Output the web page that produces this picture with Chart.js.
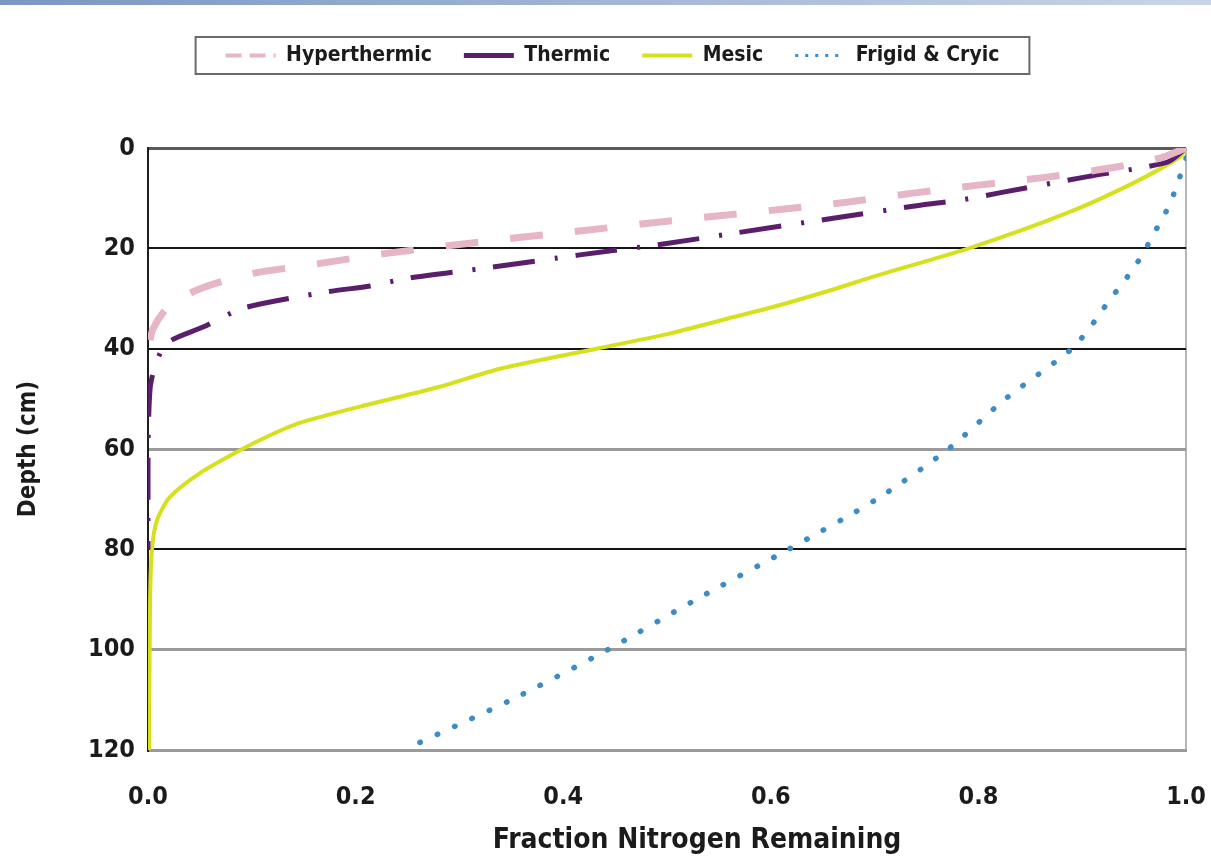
<!DOCTYPE html>
<html>
<head>
<meta charset="utf-8">
<script src="https://cdn.jsdelivr.net/npm/chart.js@4.4.1/dist/chart.umd.min.js"></script>
<style>
  html, body { margin: 0; padding: 0; background: #ffffff; }
  #wrap { position: relative; width: 1211px; height: 862px; }
  #topband { position: absolute; left: 0; top: 0; width: 1211px; height: 5px;
             background: linear-gradient(to right, #7b96c2, #a9bcd8 60%, #c9d5e6); }
</style>
</head>
<body>
<div id="wrap">
  <div id="topband"></div>
  <canvas id="c" width="1211" height="862"></canvas>
</div>
<script>
// ---- data ----
const seriesNames = ['Hyperthermic', 'Thermic', 'Mesic', 'Frigid & Cryic'];

const depthHyper = [0, 2, 4, 5.8, 7.4, 9, 10.8, 12.2, 13.6, 15, 16.5, 17.9, 19.4, 21.1, 23, 25, 27, 29, 32, 36, 40];
const fracHyper  = [1.0, 0.975, 0.927, 0.866, 0.80, 0.737, 0.673, 0.611, 0.546, 0.482, 0.418, 0.355, 0.293, 0.226, 0.166, 0.101, 0.065, 0.040, 0.018, 0.005, 0];

const depthThermic = [0, 2.8, 5.7, 8.8, 10.4, 11.4, 14, 17, 19.1, 21.3, 23.8, 25.9, 27.5, 28.7, 31.9, 35.7, 38.9, 43.3, 48, 60, 80];
const fracThermic  = [1.0, 0.982, 0.905, 0.824, 0.782, 0.744, 0.66, 0.564, 0.498, 0.416, 0.33, 0.252, 0.214, 0.172, 0.092, 0.053, 0.018, 0.007, 0.002, 0, 0];

const depthMesic = [0, 1.8, 7, 13, 19.7, 25.7, 28.2, 31.7, 33.7, 37.1, 40, 44, 47.6, 51.5, 54.8, 57.5, 60.2, 64.8, 69.6, 74, 79.5, 90, 120];
const fracMesic  = [1.0, 0.994, 0.949, 0.885, 0.795, 0.698, 0.66, 0.602, 0.564, 0.50, 0.432, 0.339, 0.281, 0.205, 0.146, 0.115, 0.089, 0.05, 0.021, 0.009, 0.004, 0.002, 0.001];

const depthFrigid = [2, 3.8, 7, 10.8, 14.2, 17.7, 21, 24, 27.3, 30, 33.7, 40, 50, 60, 70, 80, 90, 100, 110, 120];
const fracFrigid  = [1.0, 0.997, 0.992, 0.985, 0.977, 0.967, 0.959, 0.949, 0.938, 0.927, 0.915, 0.89, 0.826, 0.771, 0.702, 0.617, 0.528, 0.443, 0.35, 0.246];

const xTickValues = [0, 0.2, 0.4, 0.6, 0.8, 1.0];
const yTickValues = [0, 20, 40, 60, 80, 100, 120];

const xTitle = 'Fraction Nitrogen Remaining';
const yTitle = 'Depth (cm)';

// ---- helpers ----
const pts = (xs, ys) => xs.map((x, i) => ({ x: x, y: ys[i] }));
const FONT = "'DejaVu Sans Condensed', 'DejaVu Sans', sans-serif";
const TXT = '#1b1b1b';

const gridColorFor = {0: '#5a5a5a', 20: '#141414', 40: '#141414', 60: '#9a9a9a', 80: '#141414', 100: '#9a9a9a', 120: '#9a9a9a'};

const legendStyles = [
  { lineWidth: 4, lineDash: [16, 8], lineCap: 'butt' },
  { lineWidth: 5, lineDash: [], lineCap: 'butt' },
  { lineWidth: 4, lineDash: [], lineCap: 'butt' },
  { lineWidth: 3, lineDash: [3, 7], lineCap: 'butt' }
];

const legendSpacer = {
  id: 'legendSpacer',
  afterInit(chart) {
    const lg = chart.legend;
    if (!lg) return;
    const orig = lg.fit;
    lg.fit = function () { orig.call(this); this.height += 72; };
  },
  beforeDraw(chart) {
    // the reference's x-axis title sits ~30px right of the axis centre
    const s = chart.scales.x;
    if (s && !s._titleShifted) {
      const origTitle = s.drawTitle;
      s.drawTitle = function () {
        const l = this.left;
        this.left = l + 60;
        try { origTitle.call(this); } finally { this.left = l; }
      };
      s._titleShifted = true;
    }
  },
  afterDraw(chart) {
    const lg = chart.legend;
    if (!lg || !lg.legendHitBoxes || !lg.legendHitBoxes.length) return;
    const hb = lg.legendHitBoxes;
    let l = Infinity, r = -Infinity, t = Infinity, b = -Infinity;
    hb.forEach(h => { l = Math.min(l, h.left); r = Math.max(r, h.left + h.width); t = Math.min(t, h.top); b = Math.max(b, h.top + h.height); });
    const ctx = chart.ctx;
    ctx.save();
    ctx.strokeStyle = '#6a6a6a';
    ctx.lineWidth = 2;
    ctx.strokeRect(l - 30, t - 8, (r - l) + 60, (b - t) + 16);
    ctx.restore();
  }
};

new Chart(document.getElementById('c'), {
  type: 'scatter',
  data: {
    datasets: [
      { label: seriesNames[0], data: pts(fracHyper, depthHyper), showLine: true,
        borderColor: '#e6b5c7', backgroundColor: '#e6b5c7', borderWidth: 7,
        borderDash: [33, 32], borderCapStyle: 'butt', pointRadius: 0, tension: 0.25, fill: false },
      { label: seriesNames[1], data: pts(fracThermic, depthThermic), showLine: true,
        borderColor: '#5a1e6c', backgroundColor: '#5a1e6c', borderWidth: 5,
        borderDash: [42, 18, 3, 20], borderCapStyle: 'butt', pointRadius: 0, tension: 0.25, fill: false },
      { label: seriesNames[2], data: pts(fracMesic, depthMesic), showLine: true,
        borderColor: '#d4e11c', backgroundColor: '#d4e11c', borderWidth: 4,
        pointRadius: 0, tension: 0.25, fill: false },
      { label: seriesNames[3], data: pts(fracFrigid, depthFrigid), showLine: true,
        borderColor: '#3d8cc6', backgroundColor: '#3d8cc6', borderWidth: 5.5,
        borderDash: [0.5, 18.5], borderCapStyle: 'round', pointRadius: 0, tension: 0.25, fill: false }
    ]
  },
  options: {
    responsive: false,
    animation: false,
    events: [],
    layout: { padding: { top: 13, right: 0, bottom: 0, left: 14 } },
    plugins: {
      tooltip: { enabled: false },
      legend: {
        display: true,
        position: 'top',
        labels: {
          usePointStyle: true,
          pointStyle: 'line',
          pointStyleWidth: 50,
          padding: 32,
          color: TXT,
          font: { family: FONT, size: 21, weight: 'bold' },
          generateLabels(chart) {
            const items = Chart.defaults.plugins.legend.labels.generateLabels(chart);
            items.forEach((it, i) => {
              Object.assign(it, legendStyles[i]);
              it.pointStyle = 'line';
            });
            return items;
          }
        }
      }
    },
    scales: {
      x: {
        type: 'linear',
        min: 0, max: 1,
        afterBuildTicks(scale) { scale.ticks = xTickValues.map(v => ({ value: v })); },
        afterFit(scale) { scale.height = 112; },
        ticks: {
          padding: 5,
          color: TXT,
          font: { family: FONT, size: 25, weight: 'bold' },
          callback: v => Number(v).toFixed(1)
        },
        grid: {
          drawTicks: true,
          tickLength: 27,
          tickColor: 'rgba(0,0,0,0)',
          lineWidth: 2,
          color: ctx => (ctx.tick && ctx.tick.value === 1) ? '#b5b5b5' : 'rgba(0,0,0,0)'
        },
        border: { display: true, color: '#9a9a9a', width: 3 },
        title: {
          display: true,
          text: xTitle,
          color: TXT,
          font: { family: FONT, size: 28, weight: 'bold' },
          padding: { top: 4, bottom: 4 }
        }
      },
      y: {
        type: 'linear',
        reverse: true,
        min: 0, max: 120,
        afterBuildTicks(scale) { scale.ticks = yTickValues.map(v => ({ value: v })); },
        afterFit(scale) { scale.width = 134; },
        ticks: {
          padding: 13,
          color: TXT,
          font: { family: FONT, size: 25, weight: 'bold' },
          callback: v => String(v)
        },
        grid: {
          drawTicks: false,
          lineWidth: ctx => (ctx.tick && (ctx.tick.value === 0 || gridColorFor[ctx.tick.value] === '#9a9a9a')) ? 3 : 2,
          color: ctx => gridColorFor[ctx.tick ? ctx.tick.value : 0] || '#9a9a9a'
        },
        border: { display: true, color: '#1e1e1e', width: 2 },
        title: {
          display: true,
          text: yTitle,
          color: TXT,
          font: { family: FONT, size: 24, weight: 'bold' },
          padding: { top: 0, bottom: 4 }
        }
      }
    }
  },
  plugins: [legendSpacer]
});
</script>
</body>
</html>
